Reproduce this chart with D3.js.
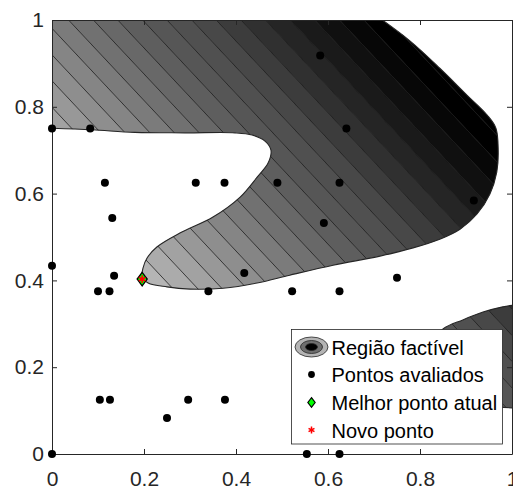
<!DOCTYPE html>
<html>
<head>
<meta charset="utf-8">
<script src="https://cdn.jsdelivr.net/npm/d3@7"></script>
<style>
  body { margin: 0; background: #fff; }
  svg { display: block; font-family: "Liberation Sans", Arial, sans-serif; }
</style>
</head>
<body>
<svg id="chart" width="513" height="491"></svg>
<script>
// DATA
const xTicks = [0, 0.2, 0.4, 0.6, 0.8, 1];
const yTicks = [0, 0.2, 0.4, 0.6, 0.8, 1];
const tickLabels = ['0', '0.2', '0.4', '0.6', '0.8', '1'];

// evaluated points
const pointsX = [0, 0.083, 0.115, 0.3125, 0.375, 0.131, 0.583, 0.64, 0.49, 0.625,
  0.591, 0.917, 0, 0.135, 0.1, 0.125, 0.34, 0.418, 0.104, 0.126,
  0.296, 0.376, 0.25, 0, 0.522, 0.625, 0.75, 0.554, 0.625];
const pointsY = [0.75, 0.75, 0.625, 0.625, 0.625, 0.544, 0.918, 0.75, 0.625, 0.625,
  0.532, 0.584, 0.434, 0.411, 0.375, 0.375, 0.375, 0.417, 0.125, 0.125,
  0.125, 0.125, 0.083, 0, 0.375, 0.375, 0.406, 0, 0];

const bestPoint = [0.196, 0.403];
const newPoint = [0.196, 0.403];

// feasible region boundary (main piece)
const regionEdge = [
  [-0.01, 0.751], [0.087, 0.747], [0.18, 0.741], [0.289, 0.74], [0.398, 0.74],
  [0.435, 0.735], [0.463, 0.721], [0.476, 0.7], [0.47, 0.671], [0.446, 0.638],
  [0.409, 0.592], [0.35, 0.546], [0.278, 0.509], [0.228, 0.477], [0.207, 0.452],
  [0.198, 0.429], [0.196, 0.408], [0.209, 0.394], [0.25, 0.385], [0.3, 0.38],
  [0.372, 0.382], [0.446, 0.394], [0.517, 0.412], [0.611, 0.435], [0.713, 0.456],
  [0.785, 0.475], [0.843, 0.495], [0.887, 0.518], [0.924, 0.553], [0.952, 0.599],
  [0.967, 0.65], [0.97, 0.7], [0.965, 0.751], [0.946, 0.781], [0.902, 0.827],
  [0.843, 0.889], [0.778, 0.952], [0.705, 1.01]
];
// small piece at the lower right
const blobEdge = [
  [1.01, 0.106], [0.95, 0.112], [0.88, 0.14], [0.83, 0.19], [0.82, 0.25],
  [0.85, 0.288], [0.893, 0.309], [0.937, 0.327], [0.98, 0.339], [1.01, 0.344]
];

// objective contour levels (x + levelSlope * y = level) and band grays
const levelSlope = 0.885;
const levels = [0.493, 0.547, 0.600, 0.654, 0.707, 0.761, 0.814, 0.868, 0.921, 0.975,
  1.028, 1.082, 1.135, 1.189, 1.242, 1.296, 1.349, 1.403, 1.456, 1.510,
  1.563, 1.617, 1.670];
const bandGrays = [190, 181, 171, 162, 152, 142, 133, 123, 113, 104,
  94, 86, 80, 72, 60, 48, 37, 26, 16, 7, 0, 0];

const legendLabels = ['Região factível', 'Pontos avaliados', 'Melhor ponto atual', 'Novo ponto'];

// LAYOUT
const svg = d3.select('#chart');
const x = d3.scaleLinear().domain([0, 1]).range([52, 512]);
const y = d3.scaleLinear().domain([0, 1]).range([454, 20]);
const ink = '#262626';

const defs = svg.append('defs');
defs.append('clipPath').attr('id', 'plotClip')
  .append('rect')
  .attr('x', x(0)).attr('y', y(1))
  .attr('width', x(1) - x(0)).attr('height', y(0) - y(1));

const edgeLine = d3.line()
  .x(d => x(d[0]))
  .y(d => y(d[1]))
  .curve(d3.curveCatmullRom.alpha(0.5));

const mainPath = edgeLine(regionEdge) + `L${x(-0.01)},${y(1.01)}Z`;
const blobPath = edgeLine(blobEdge) + 'Z';

const regionClip = defs.append('clipPath').attr('id', 'regionClip');
regionClip.append('path').attr('d', mainPath);
regionClip.append('path').attr('d', blobPath);

// REGION (filled contour bands)
const plotG = svg.append('g').attr('clip-path', 'url(#plotClip)');
const regionG = plotG.append('g').attr('clip-path', 'url(#regionClip)');

const levelPoint = (c, yy) => [x(c - levelSlope * yy), y(yy)];

bandGrays.forEach((g, i) => {
  const lo = levels[i], hi = levels[i + 1];
  const poly = [levelPoint(lo, -0.2), levelPoint(lo, 1.2), levelPoint(hi, 1.2), levelPoint(hi, -0.2)];
  regionG.append('path')
    .attr('d', 'M' + poly.join('L') + 'Z')
    .attr('fill', `rgb(${g},${g},${g})`)
    .attr('stroke', `rgb(${g},${g},${g})`)
    .attr('stroke-width', 0.6);
});

levels.forEach(c => {
  const a = levelPoint(c, -0.2), b = levelPoint(c, 1.2);
  regionG.append('line')
    .attr('x1', a[0]).attr('y1', a[1])
    .attr('x2', b[0]).attr('y2', b[1])
    .attr('stroke', '#1e1e1e')
    .attr('stroke-width', 0.8);
});

// region outline
plotG.append('path')
  .attr('d', edgeLine(regionEdge))
  .attr('fill', 'none')
  .attr('stroke', ink)
  .attr('stroke-width', 1.1);
plotG.append('path')
  .attr('d', edgeLine(blobEdge))
  .attr('fill', 'none')
  .attr('stroke', ink)
  .attr('stroke-width', 1.1);

// AXES
function styleAxis(g) {
  g.attr('color', ink)
    .attr('font-size', 21)
    .attr('font-family', '"Liberation Sans", Arial, sans-serif');
  g.select('.domain').attr('stroke-width', 1);
}

svg.append('g')
  .attr('transform', `translate(0,${y(0)})`)
  .call(d3.axisBottom(x).tickValues(xTicks).tickFormat((d, i) => tickLabels[i])
    .tickSizeInner(-5).tickSizeOuter(0).tickPadding(17))
  .call(styleAxis);

svg.append('g')
  .attr('transform', `translate(${x(0)},0)`)
  .call(d3.axisLeft(y).tickValues(yTicks).tickFormat((d, i) => tickLabels[i])
    .tickSizeInner(-5).tickSizeOuter(0).tickPadding(8))
  .call(styleAxis);

svg.append('g')
  .attr('transform', `translate(0,${y(1)})`)
  .call(d3.axisTop(x).tickValues(xTicks).tickFormat('').tickSizeInner(-5).tickSizeOuter(0))
  .call(styleAxis);

svg.append('g')
  .attr('transform', `translate(${x(1)},0)`)
  .call(d3.axisRight(y).tickValues(yTicks).tickFormat('').tickSizeInner(-5).tickSizeOuter(0))
  .call(styleAxis);

// MARKERS
const tallDiamond = {
  draw(ctx, size) {
    const h = Math.sqrt(size) * 0.75, w = h * 0.75;
    ctx.moveTo(0, -h);
    ctx.lineTo(w, 0);
    ctx.lineTo(0, h);
    ctx.lineTo(-w, 0);
    ctx.closePath();
  }
};

svg.append('g')
  .selectAll('circle')
  .data(pointsX.map((d, i) => [d, pointsY[i]]))
  .join('circle')
  .attr('cx', d => x(d[0]))
  .attr('cy', d => y(d[1]))
  .attr('r', 4)
  .attr('fill', '#000');

svg.append('path')
  .attr('transform', `translate(${x(bestPoint[0])},${y(bestPoint[1])})`)
  .attr('d', d3.symbol(tallDiamond, 80)())
  .attr('fill', '#00ff00')
  .attr('stroke', '#000')
  .attr('stroke-width', 1.3);

svg.append('path')
  .attr('transform', `translate(${x(newPoint[0])},${y(newPoint[1])})`)
  .attr('d', d3.symbol(d3.symbolAsterisk, 40)())
  .attr('fill', 'none')
  .attr('stroke', '#ff0000')
  .attr('stroke-width', 1.6);

// LEGEND
const legend = svg.append('g');
legend.append('rect')
  .attr('x', 291.5).attr('y', 329.5)
  .attr('width', 211).attr('height', 114.5)
  .attr('fill', '#fff')
  .attr('stroke', ink)
  .attr('stroke-width', 0.8);

const rowY = [347, 374.5, 402.5, 430];
const iconX = 311.5;

legendLabels.forEach((label, i) => {
  legend.append('text')
    .attr('x', 331.5)
    .attr('y', rowY[i] + 7.5)
    .attr('font-size', 20)
    .attr('fill', '#000')
    .text(label);
});

// legend icon: nested contour ellipses
[[16.5, 10, '#b4b4b4'], [11, 6.5, '#6e6e6e'], [6, 3.5, '#000']].forEach(([rx, ry, fill]) => {
  legend.append('ellipse')
    .attr('cx', iconX).attr('cy', rowY[0])
    .attr('rx', rx).attr('ry', ry)
    .attr('fill', fill)
    .attr('stroke', ink)
    .attr('stroke-width', 0.8);
});

legend.append('circle')
  .attr('cx', iconX).attr('cy', rowY[1])
  .attr('r', 3.4)
  .attr('fill', '#000');

legend.append('path')
  .attr('transform', `translate(${iconX},${rowY[2]})`)
  .attr('d', d3.symbol(tallDiamond, 42)())
  .attr('fill', '#00ff00')
  .attr('stroke', '#000')
  .attr('stroke-width', 1.2);

legend.append('path')
  .attr('transform', `translate(${iconX},${rowY[3]})`)
  .attr('d', d3.symbol(d3.symbolAsterisk, 32)())
  .attr('fill', 'none')
  .attr('stroke', '#ff0000')
  .attr('stroke-width', 1.5);
</script>
</body>
</html>
